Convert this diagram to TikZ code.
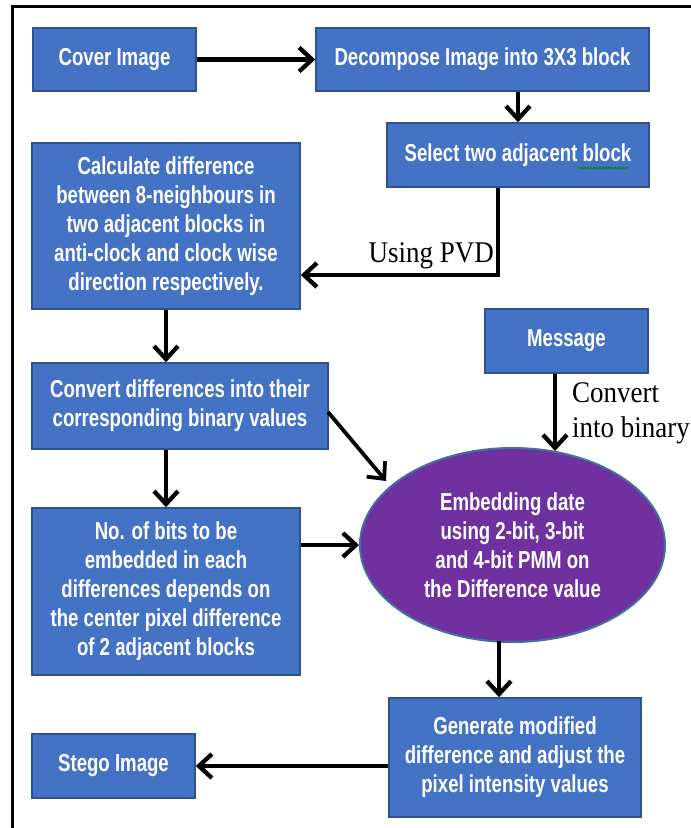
\documentclass[tikz,border=0pt]{standalone}
\usepackage{fontspec}
\usetikzlibrary{arrows.meta,shapes.geometric,calc,decorations.pathmorphing}
\newfontfamily\boxfont{Liberation Sans}[FakeStretch=0.76]
\newfontfamily\notefont{Liberation Serif}[FakeStretch=0.9]
\definecolor{boxfill}{HTML}{4472C4}
\definecolor{boxline}{HTML}{2F528F}
\definecolor{ellfill}{HTML}{7030A0}
\definecolor{ellline}{HTML}{41719C}
\tikzset{
  stepbox/.style={draw=boxline, line width=1.5pt, fill=boxfill, text=white,
    align=center, inner sep=0pt,
    font=\boxfont\bfseries\fontsize{24.5}{29}\selectfont},
  ellbox/.style={ellipse, draw=ellline, line width=2pt, fill=ellfill, text=white,
    align=center, inner sep=0pt,
    font=\boxfont\bfseries\fontsize{24.5}{29}\selectfont},
  arr/.style={line width=4.3pt, -{Straight Barb[length=13pt,width=24pt]}},
  note/.style={font=\notefont\fontsize{30}{35}\selectfont, inner sep=0pt}
}
\begin{document}
\begin{tikzpicture}[x=1pt,y=-1pt]
\useasboundingbox (0,0) rectangle (691,828);
% outer frame (left and top edges)
\draw[line width=3pt] (12,828) -- (12,6) -- (691,6);

% process blocks
\node[stepbox, minimum width=163pt, minimum height=63pt] (cover) at (114.5,59.5) {Cover Image};
\node[stepbox, minimum width=333pt, minimum height=63pt] (decomp) at (482.5,59.5) {Decompose Image into 3X3 block};
\node[stepbox, minimum width=262pt, minimum height=64pt] (select) at (518,155) {Select two adjacent block};
\node[stepbox, minimum width=268pt, minimum height=166pt] (calc) at (166,226)
  {Calculate difference\\between 8-neighbours in\\two adjacent blocks in\\anti-clock and clock wise\\direction respectively.};
\node[stepbox, minimum width=296pt, minimum height=86pt] (convdiff) at (180,406)
  {Convert differences into their\\corresponding binary values};
\node[stepbox, minimum width=268pt, minimum height=167pt] (nobits) at (166,591.5)
  {No. of bits to be\\embedded in each\\differences depends on\\the center pixel difference\\of 2 adjacent blocks};
\node[stepbox, minimum width=163pt, minimum height=64pt] (message) at (566.5,341) {Message};
\node[ellbox, minimum width=305pt, minimum height=194pt] (ell) at (512.5,545)
  {Embedding date\\using 2-bit, 3-bit\\and 4-bit PMM on\\the Difference value};
\node[stepbox, minimum width=252pt, minimum height=119pt] (gen) at (515,757.5)
  {Generate modified\\difference and adjust the\\pixel intensity values};
\node[stepbox, minimum width=163pt, minimum height=64pt] (stego) at (113.5,766) {Stego Image};

% spell-check underline under the last word of the select block
\draw[green!55!black, line width=0.8pt, decorate,
  decoration={snake, segment length=3pt, amplitude=0.8pt}]
  ($(select.center)+(60,13)$) -- ($(select.center)+(110,13)$);

% connectors
\draw[arr] (cover.east) -- (decomp.west);
\draw[arr] (decomp.south -| select.north) -- (select.north);

\coordinate (pvdturn) at (498,275);
\draw[arr] (select.south -| pvdturn) -- (pvdturn) -- (pvdturn -| calc.east);
\node[note, anchor=base east] (pvd) at (494,262) {Using PVD};

\draw[arr] (calc.south) -- (calc.south |- convdiff.north);
\draw[arr] (nobits.north |- convdiff.south) -- (nobits.north);

\coordinate (diagfrom) at (328,412);
\coordinate (diagtip) at (386,481);
\draw[arr, line width=3.8pt] (diagfrom) -- (diagtip);

\draw[arr] (nobits.east |- ell.west) -- (ell.west);

\coordinate (msgtip) at (555,451);
\draw[arr] (message.south -| msgtip) -- (msgtip);
\node[note, anchor=north west, align=left] (conv) at (572,382) {Convert\\into binary};

\coordinate (ellout) at (499,641);
\draw[arr] (ellout) -- (ellout |- gen.north);
\draw[arr] (gen.west |- stego.east) -- (stego.east);
\end{tikzpicture}
\end{document}
